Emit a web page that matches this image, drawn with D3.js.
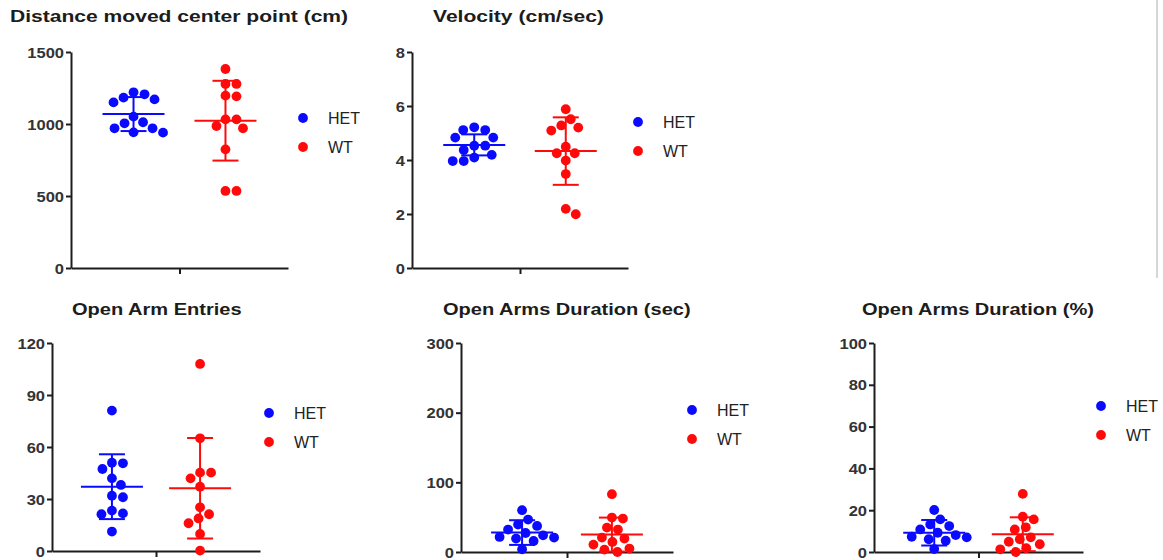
<!DOCTYPE html>
<html>
<head>
<meta charset="utf-8">
<script src="https://cdn.jsdelivr.net/npm/d3@7"></script>
<style>
body { margin: 0; background: #fff; }
text { font-family: "Liberation Sans", Arial, sans-serif; }
</style>
</head>
<body>
<script>
//groups and colours
var groups = ["HET", "WT"];
var groupColors = ["#0a0aff", "#ff0a0a"];

//panel titles and y axes
var titles = ["Distance moved center point (cm)", "Velocity (cm/sec)", "Open Arm Entries",
              "Open Arms Duration (sec)", "Open Arms Duration (%)"];
var yMax = [1500, 8, 120, 300, 100];
var yTicks = [[0, 500, 1000, 1500], [0, 2, 4, 6, 8], [0, 30, 60, 90, 120],
              [0, 100, 200, 300], [0, 20, 40, 60, 80, 100]];

//individual animals
var distanceHET = [1220, 1183, 1171, 1206, 1150, 1051, 1005, 1012, 970, 940, 942, 970];
var distanceWT  = [1382, 1278, 1278, 1197, 1192, 1032, 1032, 970, 986, 824, 535, 535];
var velocityHET = [5.21, 5.11, 5.11, 4.83, 4.83, 4.53, 4.53, 4.37, 4.19, 4.09, 3.96, 3.96];
var velocityWT  = [5.88, 5.51, 5.28, 5.2, 5.09, 4.49, 4.25, 4.25, 3.98, 3.48, 1.99, 2.19];
var entriesHET  = [81, 50.6, 50.9, 47.3, 41.9, 38.1, 31, 31.9, 21.2, 21.7, 23.3, 11.2];
var entriesWT   = [107.9, 65, 45.2, 45.2, 41.9, 37.1, 25.2, 21.2, 18.8, 16, 9.8, 0.2];
var durSecHET   = [60, 46.6, 39.4, 37.4, 32.2, 27.3, 24, 21.6, 19.3, 20.7, 15.8, 3.9];
var durSecWT    = [83, 48, 49.4, 35, 32.2, 20.7, 19.3, 14.4, 10.6, 4.9, 3.4, 0];
var durPctHET   = [20.1, 15.6, 13.2, 12.4, 10.8, 9.2, 8.1, 7.3, 6.1, 7, 5.4, 1.4];
var durPctWT    = [27.8, 15.6, 16.9, 11.8, 10.8, 7, 6.1, 4.9, 3.7, 1.8, 1.3, 0];

//mean and SD shown by the bars
var means = [[1069, 1023], [4.56, 4.33], [37.1, 36.2], [27.9, 25], [9.2, 8.5]];
var sds   = [[118, 277], [0.39, 1.25], [18.7, 29], [17.7, 24.4], [6.1, 8.1]];

var series = [[distanceHET, distanceWT], [velocityHET, velocityWT], [entriesHET, entriesWT],
              [durSecHET, durSecWT], [durPctHET, durPctWT]];

//panel frames on the page
var layout = [
    {x0: 71,  x1: 288,  top: 52,  bottom: 268, titleX: 10,  titleY: 22,  titleSx: 1.24, legX: 303,  legY: 118},
    {x0: 412, x1: 628,  top: 52,  bottom: 268, titleX: 433, titleY: 22,  titleSx: 1.24, legX: 638,  legY: 122},
    {x0: 52,  x1: 260,  top: 343, bottom: 551, titleX: 72,  titleY: 315, titleSx: 1.18, legX: 269,  legY: 413},
    {x0: 461, x1: 673,  top: 343, bottom: 552, titleX: 443, titleY: 315, titleSx: 1.18, legX: 692,  legY: 410},
    {x0: 874, x1: 1083, top: 343, bottom: 552, titleX: 862, titleY: 315, titleSx: 1.18, legX: 1101, legY: 406}
];

var width = 1163, height = 560;
var dotR = 4.9, tickSx = 1.18;

var svg = d3.select("body").append("svg")
    .attr("width", width)
    .attr("height", height);

//frame edge at the right of the top row
svg.append("line")
    .attr("x1", 1157).attr("x2", 1157)
    .attr("y1", 0).attr("y2", 278)
    .attr("stroke", "#d6d6d6").attr("stroke-width", 2);

//simple beeswarm: push each dot sideways until it clears the others
function swarm(values, y, cx, d){
    var order = d3.range(values.length).sort(function(a, b){ return d3.descending(values[a], values[b]); });
    var placed = [];
    var xs = new Array(values.length);
    order.forEach(function(i){
        var py = y(values[i]);
        for (var k = 0; k < 400; k++){
            var off = (k % 2 ? 1 : -1) * Math.ceil(k / 2) * 0.5;
            var px = cx + off;
            var ok = placed.every(function(p){
                var dx = p[0] - px, dy = p[1] - py;
                return dx * dx + dy * dy >= d * d;
            });
            if (ok){ xs[i] = px; placed.push([px, py]); break; }
        }
    });
    return xs;
}

layout.forEach(function(L, pi){
    var g = svg.append("g");

    var y = d3.scaleLinear().domain([0, yMax[pi]]).range([L.bottom, L.top]);
    var x = d3.scalePoint().domain(groups).range([L.x0, L.x1]).padding(0.68);

    //title
    g.append("text")
        .attr("transform", "translate(" + L.titleX + "," + L.titleY + ") scale(" + L.titleSx + ",1)")
        .attr("font-size", 17).attr("font-weight", "bold").attr("fill", "#1c1c1c")
        .text(titles[pi]);

    //y axis
    var yAxis = g.append("g")
        .attr("transform", "translate(" + L.x0 + ",0)")
        .call(d3.axisLeft(y).tickValues(yTicks[pi]).tickSize(5).tickSizeOuter(0).tickFormat(d3.format("d")));
    yAxis.selectAll("path, line").attr("stroke", "#1c1c1c").attr("stroke-width", 2);
    yAxis.selectAll("text")
        .attr("x", null).attr("dy", null)
        .attr("transform", "translate(-7,5) scale(" + tickSx + ",1)")
        .attr("font-size", 14).attr("font-weight", "bold").attr("fill", "#333")
        .attr("font-family", "Liberation Sans, Arial, sans-serif");

    //x axis with a single centre tick
    var xl = d3.scaleLinear().domain([0, 1]).range([L.x0, L.x1]);
    var xAxis = g.append("g")
        .attr("transform", "translate(0," + L.bottom + ")")
        .call(d3.axisBottom(xl).tickValues([0.5]).tickSize(6).tickSizeOuter(0).tickFormat(""));
    xAxis.selectAll("path, line").attr("stroke", "#1c1c1c").attr("stroke-width", 2);

    groups.forEach(function(grp, gi){
        var col = groupColors[gi];
        var cx = x(grp);
        var vals = series[pi][gi];
        var xs = swarm(vals, y, cx, 11);

        //dots
        g.append("g").selectAll("circle")
            .data(vals)
            .join("circle")
            .attr("cx", function(d, i){ return xs[i]; })
            .attr("cy", function(d){ return y(d); })
            .attr("r", dotR)
            .attr("fill", col);

        //mean and SD bars
        var m = means[pi][gi], s = sds[pi][gi];
        var bars = g.append("g").attr("stroke", col).attr("stroke-width", 2);
        bars.append("line").attr("x1", cx - 31).attr("x2", cx + 31).attr("y1", y(m)).attr("y2", y(m));
        bars.append("line").attr("x1", cx).attr("x2", cx).attr("y1", y(m - s)).attr("y2", y(m + s));
        [m - s, m + s].forEach(function(v){
            bars.append("line").attr("x1", cx - 13).attr("x2", cx + 13).attr("y1", y(v)).attr("y2", y(v));
        });

        //legend
        g.append("circle")
            .attr("cx", L.legX).attr("cy", L.legY + gi * 29)
            .attr("r", 4.9).attr("fill", col);
        g.append("text")
            .attr("x", L.legX + 25).attr("y", L.legY + gi * 29)
            .attr("dy", "0.36em")
            .attr("font-size", 16).attr("fill", "#222")
            .text(grp);
    });
});
</script>
</body>
</html>
